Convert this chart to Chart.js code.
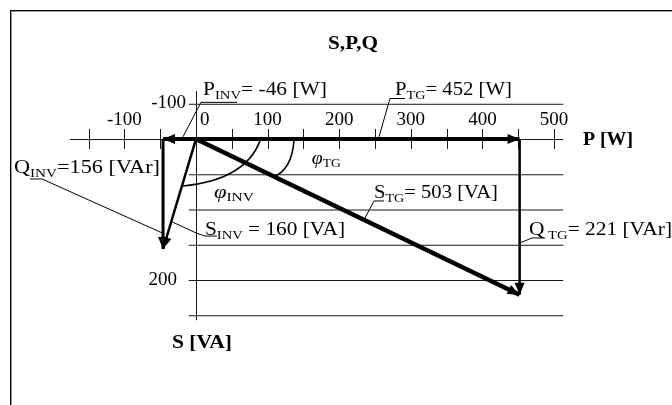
<!DOCTYPE html>
<html>
<head>
<meta charset="utf-8">
<script src="https://cdn.jsdelivr.net/npm/chart.js@4.4.1/dist/chart.umd.min.js"></script>
<style>
  html, body { margin: 0; padding: 0; background: #fff; overflow: hidden; }
  #frame {
    position: absolute; left: 10px; top: 10px; width: 720px; height: 460px;
    border-left: 1px solid #000; border-top: 1px solid #000;
    box-shadow: inset 1px 1px 0 #9a9a9a;
  }
  #chart { position: absolute; left: 0; top: 0; }
</style>
</head>
<body>
<div id="frame"></div>
<canvas id="chart" width="672" height="405"></canvas>
<script>
// phasor values
const P_INV = -46, Q_INV = 156, S_INV = 160;
const P_TG = 452, Q_TG = 221, S_TG = 503;

// vectors: start and end in (P, Q)
const vectorNames = ["P_INV", "P_TG", "Q_INV", "S_INV", "Q_TG", "S_TG"];
const vectorFromP = [0, 0, P_INV, 0, P_TG, 0];
const vectorFromQ = [0, 0, 0, 0, 0, 0];
const vectorToP = [P_INV, P_TG, P_INV, P_INV, P_TG, P_TG];
const vectorToQ = [0, 0, Q_INV, Q_INV, Q_TG, Q_TG];
const vectorWidths = [4, 4, 3, 2.5, 2.5, 4.5];

// axis ticks
const pTicks = [-150, -100, -50, 0, 50, 100, 150, 200, 250, 300, 350, 400, 450, 500];
const pLabelValues = [-100, 0, 100, 200, 300, 400, 500];
const pLabels = ["-100", "0", "100", "200", "300", "400", "500"];
const qGrid = [-50, 50, 100, 150, 200, 250];
const qLabelValues = [-50, 200];
const qLabels = ["-100", "200"];

const SERIF = "'Liberation Serif', 'Times New Roman', serif";

// value labels (left x, baseline y in data units, target width in px)
const valueLabels = [
    { main: "P", sub: "INV", rest: "= " + P_INV + " [W]", x: 9.8, y: -62.4, w: 124 },
    { main: "P", sub: "TG", rest: "= " + P_TG + " [W]", x: 277.9, y: -62.4, w: 117 },
    { main: "Q", sub: "INV", rest: "=" + Q_INV + " [VAr]", x: -254.2, y: 48.2, w: 146 },
    { main: "S", sub: "INV", rest: " = " + S_INV + " [VA]", x: 12.6, y: 136.2, w: 140 },
    { main: "S", sub: "TG", rest: "= " + S_TG + " [VA]", x: 248.6, y: 83.7, w: 124 },
    { main: "Q", sub: " TG", rest: "= " + Q_TG + " [VAr]", x: 465.1, y: 136.2, w: 143 }
];
const leaders = [
    [[-18.2, -3], [7.0, -52], [57.3, -52]],
    [[255.6, -3], [270.9, -57.4], [291.9, -57.4]],
    [[-47, 133.3], [-215.1, 56.7], [-231.8, 56.7]],
    [[-33, 117.7], [1.4, 133.8], [12.6, 137.6], [29.3, 137.6]],
    [[234.6, 114.7], [248.6, 87.9], [262.6, 87.9]],
    [[452, 147.5], [469.3, 140.4], [487.4, 140.4]]
];
const angleArcs = [
    [[136.9, 1.4], [134.1, 44.0], [107.5, 53.9]],
    [[89.4, 2.8], [68.4, 58.2], [-18.2, 66.7]]
];
const angleLabels = [
    { sub: "TG", x: 161.6, y: 35.5, w: 29 },
    { sub: "INV", x: 25.1, y: 83.7, w: 40 }
];

function drawRich(ctx, parts, x, y, targetW, align) {
    let natural = 0;
    parts.forEach(p => { ctx.font = p.font; natural += ctx.measureText(p.t).width; });
    const sx = targetW ? targetW / natural : 1;
    let start = x;
    if (align === "center") start = x - natural * sx / 2;
    if (align === "right") start = x - natural * sx;
    ctx.save();
    ctx.translate(start, y);
    ctx.scale(sx, 1);
    let cx = 0;
    parts.forEach(p => {
        ctx.font = p.font;
        ctx.fillText(p.t, cx, p.dy || 0);
        cx += ctx.measureText(p.t).width;
    });
    ctx.restore();
}

const phasorPlugin = {
    id: "phasor",
    beforeDatasetsDraw(chart) {
        const ctx = chart.ctx;
        const X = v => chart.scales.x.getPixelForValue(v);
        const Y = v => chart.scales.y.getPixelForValue(v);
        ctx.save();
        ctx.lineWidth = 1;
        ctx.strokeStyle = "#1a1a1a";
        // horizontal grid lines
        qGrid.forEach(q => {
            ctx.beginPath();
            ctx.moveTo(X(-10), Y(q) + 0.5);
            ctx.lineTo(X(513), Y(q) + 0.5);
            ctx.stroke();
        });
        // P axis
        ctx.beginPath();
        ctx.moveTo(X(-176), Y(0) + 0.5);
        ctx.lineTo(X(513), Y(0) + 0.5);
        ctx.stroke();
        pTicks.forEach(p => {
            ctx.beginPath();
            ctx.moveTo(Math.round(X(p)) + 0.5, Y(0) - 10);
            ctx.lineTo(Math.round(X(p)) + 0.5, Y(0) + 10);
            ctx.stroke();
        });
        // S axis
        ctx.beginPath();
        ctx.moveTo(Math.round(X(0)) + 0.5, Y(-68));
        ctx.lineTo(Math.round(X(0)) + 0.5, Y(257));
        ctx.stroke();

        ctx.fillStyle = "#000";
        ctx.textBaseline = "alphabetic";
        const tickFont = "19px " + SERIF;
        pLabelValues.forEach((p, i) => {
            if (p === 0) {
                drawRich(ctx, [{ t: pLabels[i], font: tickFont }], X(p) + 4, Y(-19.9), 0, "left");
            } else {
                drawRich(ctx, [{ t: pLabels[i], font: tickFont }], X(p), Y(-19.9), 0, "center");
            }
        });
        ctx.textBaseline = "middle";
        drawRich(ctx, [{ t: qLabels[0], font: tickFont }], X(-14), Y(qLabelValues[0]) - 1, 0, "right");
        drawRich(ctx, [{ t: qLabels[1], font: tickFont }], X(-26.5), Y(qLabelValues[1]), 0, "right");
        ctx.restore();
    },
    afterDatasetsDraw(chart) {
        const ctx = chart.ctx;
        const X = v => chart.scales.x.getPixelForValue(v);
        const Y = v => chart.scales.y.getPixelForValue(v);
        ctx.save();
        ctx.fillStyle = "#000";
        ctx.strokeStyle = "#000";
        // arrow heads
        vectorNames.forEach((n, i) => {
            const x0 = X(vectorFromP[i]), y0 = Y(vectorFromQ[i]);
            const x1 = X(vectorToP[i]), y1 = Y(vectorToQ[i]);
            const a = Math.atan2(y1 - y0, x1 - x0);
            const len = 12, half = 5;
            ctx.beginPath();
            ctx.moveTo(x1, y1);
            ctx.lineTo(x1 - len * Math.cos(a) + half * Math.sin(a), y1 - len * Math.sin(a) - half * Math.cos(a));
            ctx.lineTo(x1 - len * Math.cos(a) - half * Math.sin(a), y1 - len * Math.sin(a) + half * Math.cos(a));
            ctx.closePath();
            ctx.fill();
        });
        // leader lines
        ctx.lineWidth = 1;
        leaders.forEach(pts => {
            ctx.beginPath();
            pts.forEach((p, k) => k ? ctx.lineTo(X(p[0]), Y(p[1])) : ctx.moveTo(X(p[0]), Y(p[1])));
            ctx.stroke();
        });
        // angle arcs
        ctx.lineWidth = 1.6;
        angleArcs.forEach(c => {
            ctx.beginPath();
            ctx.moveTo(X(c[0][0]), Y(c[0][1]));
            ctx.quadraticCurveTo(X(c[1][0]), Y(c[1][1]), X(c[2][0]), Y(c[2][1]));
            ctx.stroke();
        });
        // texts
        ctx.textBaseline = "alphabetic";
        const f = "19px " + SERIF, fs = "13px " + SERIF;
        valueLabels.forEach(l => {
            drawRich(ctx, [
                { t: l.main, font: f },
                { t: l.sub, font: fs, dy: 4 },
                { t: l.rest, font: f }
            ], X(l.x), Y(l.y), l.w, "left");
        });
        angleLabels.forEach(l => {
            drawRich(ctx, [
                { t: "\u03C6", font: "italic 19px " + SERIF },
                { t: l.sub, font: fs, dy: 3 }
            ], X(l.x), Y(l.y), l.w, "left");
        });
        const fb = "bold 19px " + SERIF;
        drawRich(ctx, [{ t: "S,P,Q", font: fb }], X(219.3), Y(-137.6) + 7, 50, "center");
        ctx.textBaseline = "middle";
        drawRich(ctx, [{ t: "P [W]", font: fb }], X(540.5), Y(1.4), 50, "left");
        drawRich(ctx, [{ t: "S [VA]", font: fb }], X(-33.5), Y(289.4), 60, "left");
        ctx.restore();
    }
};

new Chart(document.getElementById("chart"), {
    type: "scatter",
    data: {
        datasets: vectorNames.map((n, i) => ({
            label: n,
            data: [{ x: vectorFromP[i], y: vectorFromQ[i] }, { x: vectorToP[i], y: vectorToQ[i] }],
            showLine: true,
            borderColor: "#000",
            borderWidth: vectorWidths[i],
            pointRadius: 0,
            fill: false
        }))
    },
    options: {
        responsive: false,
        animation: false,
        devicePixelRatio: 1,
        layout: { padding: 0 },
        plugins: { legend: { display: false }, tooltip: { enabled: false }, title: { display: false } },
        scales: {
            x: { type: "linear", min: -273.7, max: 664.8, display: false },
            y: { type: "linear", min: -197.2, max: 377.3, reverse: true, display: false }
        }
    },
    plugins: [phasorPlugin]
});
</script>
</body>
</html>
